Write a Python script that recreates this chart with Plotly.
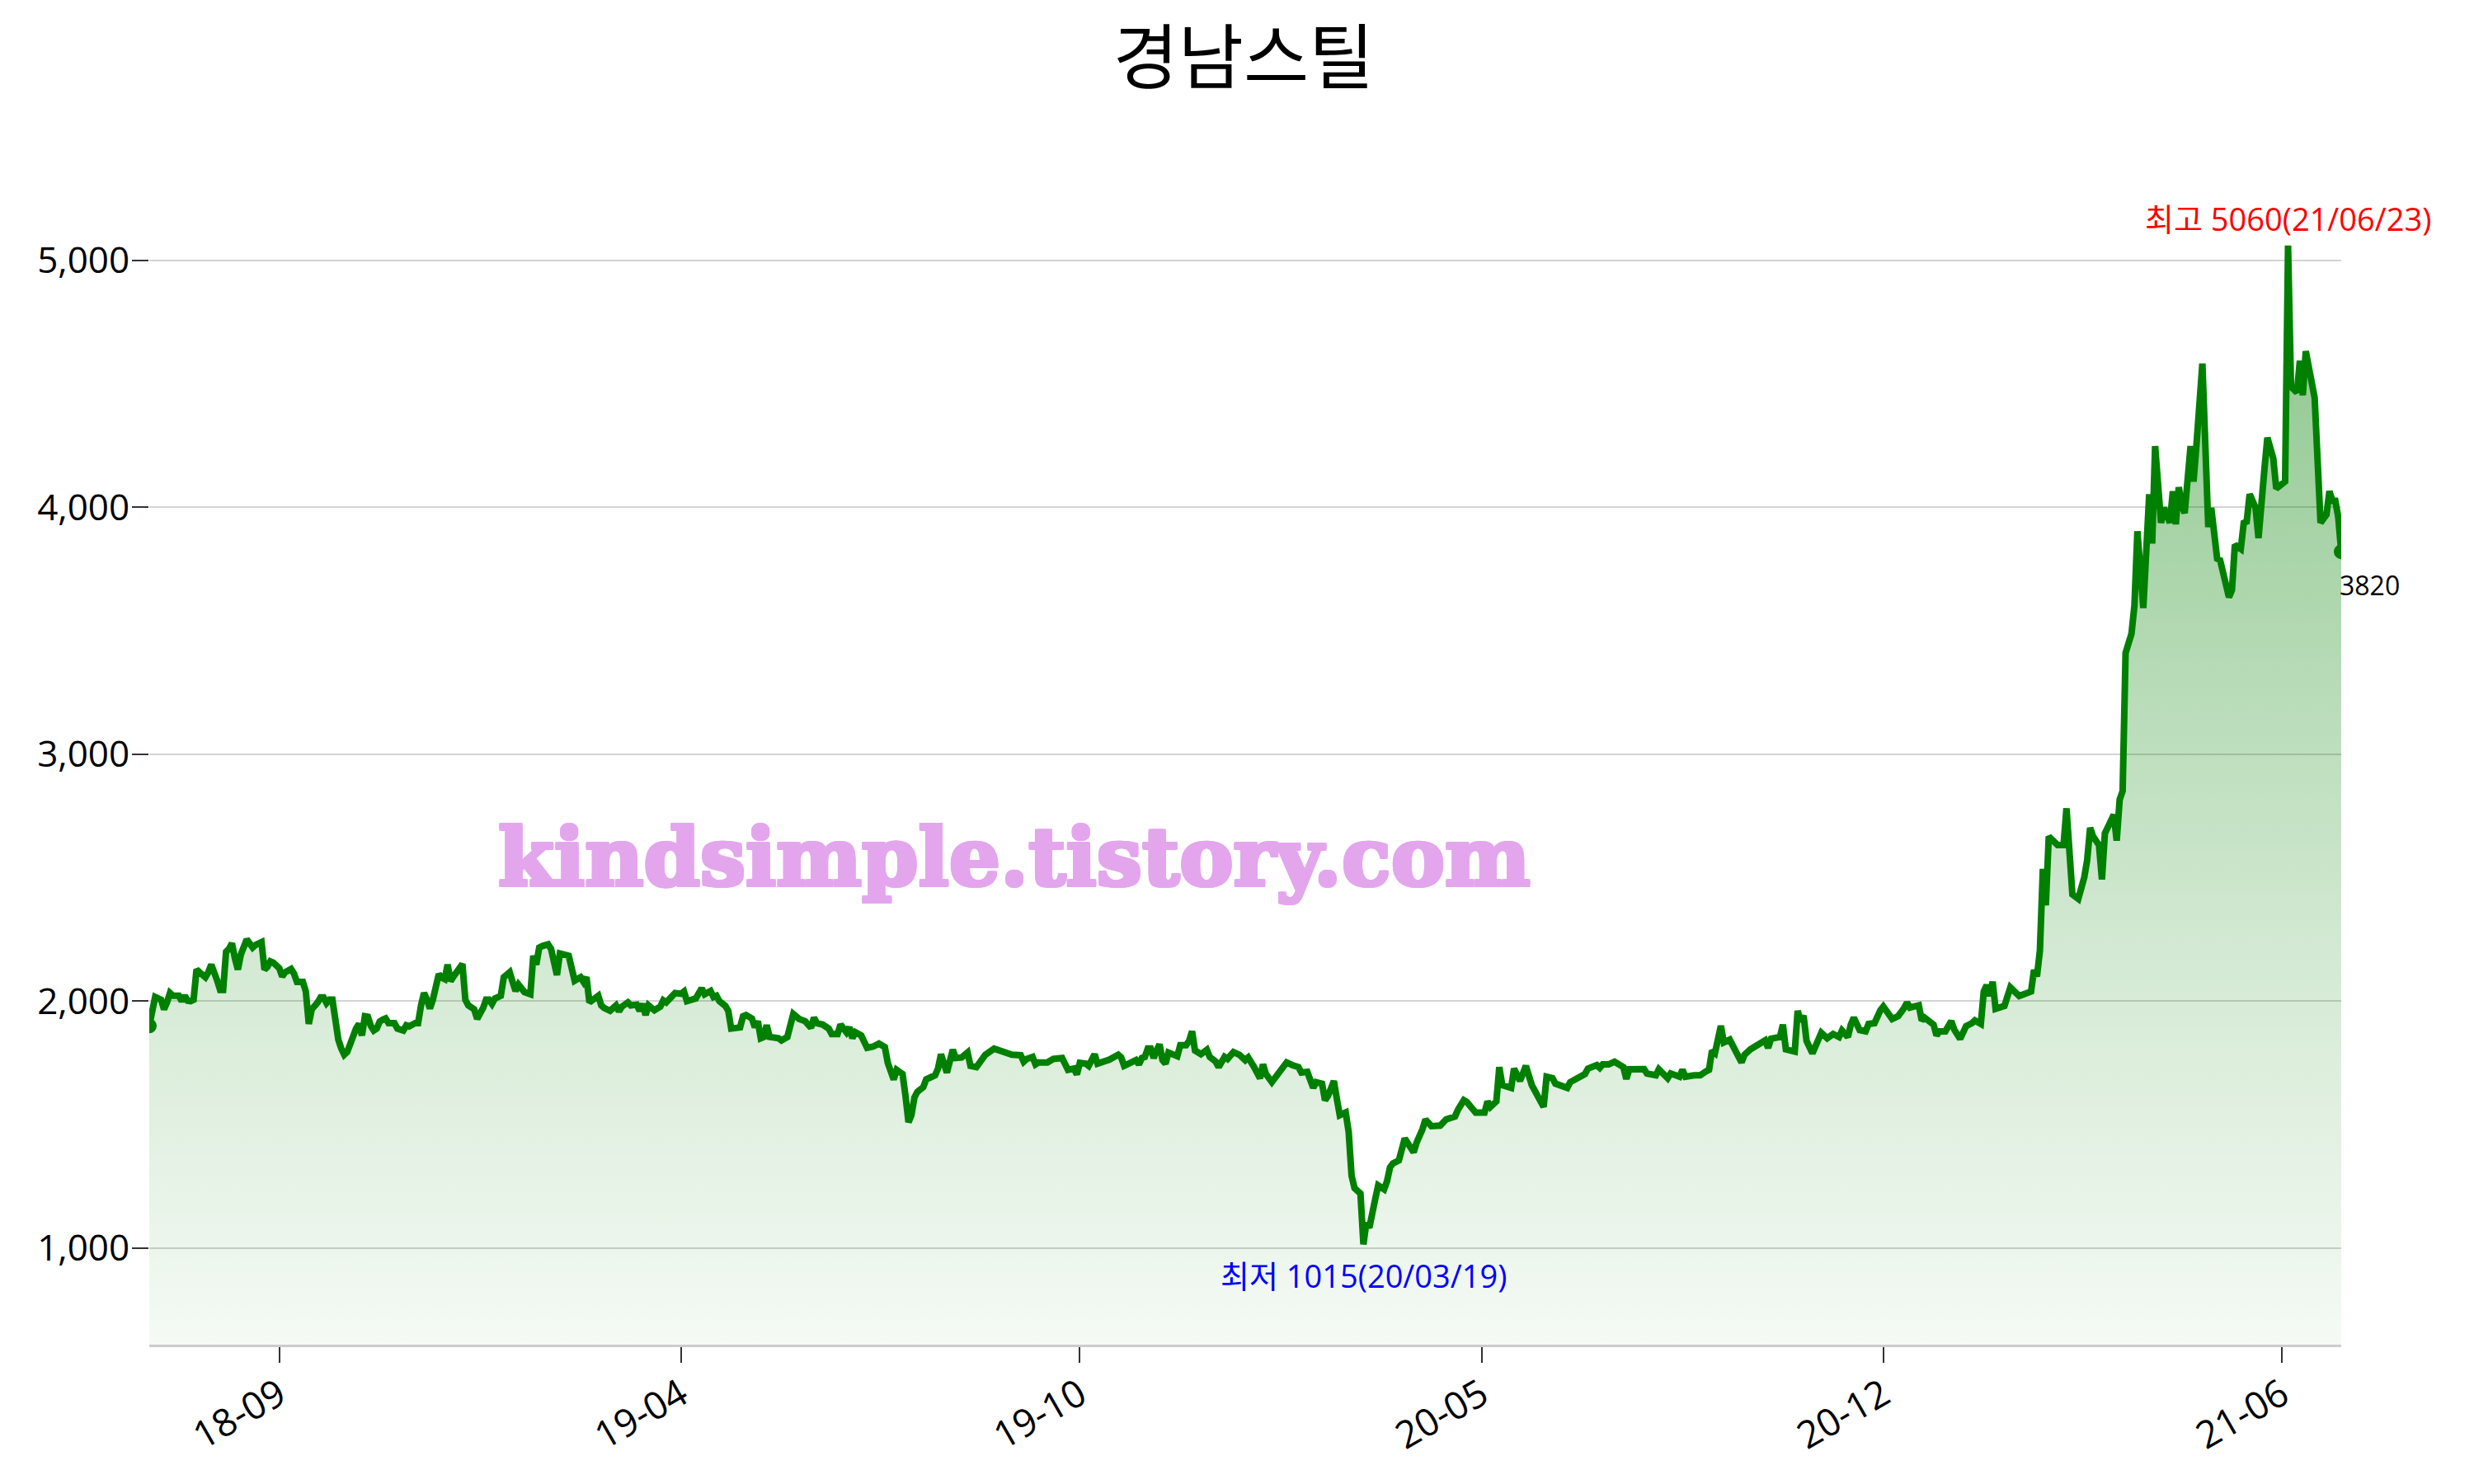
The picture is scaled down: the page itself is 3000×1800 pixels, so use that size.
import plotly.graph_objects as go

# ---- data (trading-day index, close price) ----
day_idx = [0, 1, 2, 4, 5, 6, 7, 8, 10, 11, 12, 13, 14, 15, 16, 17, 19, 20, 21, 23, 24, 25, 26, 27, 28, 29, 30, 31, 32, 33,
           35, 36, 38, 39, 40, 41, 42, 43, 44, 45, 46, 48, 49, 50, 52, 53, 54, 55, 56, 57, 58, 59, 60, 61, 62, 63, 64, 65, 66, 67,
           68, 69, 70, 71, 72, 73, 74, 75, 76, 77, 78, 79, 80, 81, 83, 84, 86, 87, 88, 90, 91, 92, 93, 94, 95, 96, 97, 98, 99, 100,
           101, 102, 103, 105, 106, 107, 108, 110, 111, 113, 114, 115, 116, 117, 119, 120, 121, 122, 123, 124, 125, 127, 129, 130, 131, 132, 133, 135, 136, 138,
           139, 141, 142, 144, 146, 147, 148, 149, 150, 152, 153, 154, 156, 158, 159, 160, 162, 163, 165, 166, 167, 168, 169, 171, 173, 174, 175, 178, 180, 181,
           182, 184, 185, 187, 188, 190, 191, 192, 193, 195, 196, 197, 199, 200, 201, 202, 204, 205, 206, 207, 208, 209, 210, 213, 214, 216, 218, 220, 222, 224,
           225, 226, 228, 230, 231, 233, 234, 236, 237, 238, 239, 241, 243, 245, 247, 249, 250, 252, 253, 255, 256, 257, 258, 259, 260, 262, 263, 266, 267, 268,
           270, 272, 273, 275, 277, 278, 280, 282, 283, 286, 288, 290, 292, 295, 296, 297, 299, 300, 301, 304, 306, 309, 310, 311, 313, 314, 315, 317, 318, 320,
           321, 323, 325, 328, 329, 330, 332, 334, 335, 336, 337, 338, 339, 340, 341, 342, 343, 344, 345, 348, 349, 351, 352, 353, 354, 356, 358, 359, 361, 362,
           364, 365, 367, 369, 371, 372, 374, 376, 377, 378, 380, 382, 385, 387, 389, 390, 392, 394, 395, 397, 398, 399, 401, 402, 403, 405, 406, 407, 408, 410,
           411, 412, 413, 415, 416, 418, 419, 420, 421, 423, 425, 428, 429, 431, 432, 434, 437, 439, 442, 443, 445, 446, 449, 452, 453, 454, 456, 457, 458, 461,
           462, 464, 466, 468, 470, 472, 473, 475, 476, 480, 481, 483, 486, 487, 490, 491, 492, 494, 496, 499, 500, 501, 504, 506, 507, 510, 511, 512, 514, 515,
           518, 519, 520, 523, 525, 527, 528, 529, 530, 532, 533, 535, 538, 539, 540, 542, 547, 548, 549, 552, 553, 554, 557, 558, 559, 560, 561, 563, 566, 568,
           570, 572, 573, 575, 576, 577, 579, 581, 582, 584, 586, 587, 590, 592, 594, 595, 596, 599, 600, 601, 604, 605, 606, 608, 610, 611, 613, 615, 617, 618,
           620, 621, 622, 623, 624, 625, 628, 630, 633, 637, 638, 639, 640, 641, 642, 643, 646, 648, 649, 651, 653, 655, 656, 657, 658, 660, 661, 662, 665, 666,
           667, 668, 669, 670, 671, 672, 673, 675, 676, 677, 678, 679, 681, 682, 684, 685, 686, 687, 688, 689, 691, 692, 693, 695, 697, 698, 700, 701, 704, 705,
           706, 708, 709, 710, 711, 713, 714, 715, 716, 717, 718, 719, 720, 723, 724, 725, 727, 728, 729, 730, 733, 734, 735, 737, 738, 739, 740, 741, 742]

close_price = [1900, 1975, 2017, 2006, 1967, 1995, 2033, 2022, 2022, 2000, 2022, 2002, 2000, 2006, 2128, 2117, 2097, 2117, 2148, 2083, 2045, 2045, 2200, 2212, 2234, 2173, 2128, 2189, 2223, 2250,
               2217, 2228, 2239, 2128, 2139, 2161, 2156, 2141, 2134, 2100, 2117, 2130, 2111, 2078, 2078, 2039, 1908, 1967, 1978, 1995, 2015, 2015, 1992, 2006, 2006, 1917, 1844, 1808, 1783, 1794,
               1833, 1867, 1889, 1908, 1861, 1939, 1937, 1900, 1881, 1889, 1917, 1925, 1930, 1911, 1911, 1889, 1881, 1902, 1898, 1911, 1911, 1983, 2033, 2006, 1970, 2006, 2067, 2109, 2095, 2089,
               2148, 2081, 2100, 2128, 2150, 2006, 1983, 1967, 1928, 1972, 2006, 2006, 1989, 2011, 2022, 2097, 2106, 2117, 2078, 2041, 2067, 2037, 2028, 2184, 2148, 2217, 2223, 2230, 2212, 2106,
               2193, 2184, 2184, 2083, 2097, 2078, 2097, 1995, 2006, 2022, 1983, 1972, 1961, 1983, 1959, 1978, 1995, 1983, 1986, 1961, 1989, 1944, 1983, 1963, 1978, 2003, 1995, 2033, 2030, 2039,
               2000, 2011, 2011, 2052, 2028, 2041, 2017, 2022, 2000, 1981, 1961, 1889, 1889, 1894, 1939, 1944, 1930, 1894, 1919, 1850, 1855, 1903, 1855, 1850, 1841, 1855, 1948, 1928, 1919, 1892,
               1933, 1911, 1905, 1889, 1867, 1867, 1905, 1874, 1894, 1850, 1874, 1861, 1811, 1816, 1828, 1814, 1750, 1683, 1722, 1705, 1616, 1510, 1538, 1610, 1633, 1652, 1683, 1700, 1727, 1785,
               1711, 1803, 1770, 1772, 1792, 1738, 1733, 1770, 1783, 1808, 1800, 1792, 1783, 1781, 1755, 1766, 1774, 1744, 1752, 1752, 1766, 1770, 1738, 1722, 1727, 1703, 1750, 1747, 1738, 1785,
               1747, 1755, 1763, 1783, 1772, 1738, 1752, 1761, 1744, 1770, 1774, 1808, 1808, 1770, 1800, 1825, 1761, 1747, 1792, 1777, 1822, 1822, 1839, 1878, 1800, 1785, 1803, 1774, 1755, 1733,
               1774, 1766, 1794, 1783, 1761, 1772, 1733, 1688, 1744, 1705, 1672, 1705, 1752, 1741, 1733, 1711, 1714, 1649, 1672, 1666, 1599, 1616, 1677, 1605, 1538, 1549, 1471, 1293, 1243, 1221,
               1015, 1104, 1082, 1199, 1254, 1238, 1271, 1327, 1343, 1355, 1444, 1388, 1427, 1482, 1521, 1494, 1496, 1521, 1533, 1560, 1599, 1592, 1549, 1549, 1594, 1572, 1594, 1733, 1660, 1649,
               1727, 1677, 1738, 1660, 1610, 1572, 1694, 1688, 1666, 1649, 1672, 1683, 1705, 1727, 1741, 1730, 1744, 1744, 1755, 1733, 1685, 1724, 1722, 1725, 1707, 1700, 1724, 1711, 1688, 1707,
               1694, 1722, 1694, 1700, 1700, 1716, 1722, 1800, 1790, 1900, 1833, 1844, 1783, 1752, 1783, 1805, 1841, 1811, 1848, 1855, 1905, 1805, 1796, 1961, 1919, 1941, 1839, 1789, 1872, 1850,
               1867, 1855, 1881, 1855, 1905, 1933, 1883, 1878, 1908, 1911, 1963, 1978, 1928, 1939, 1972, 1994, 1974, 1983, 1922, 1933, 1905, 1861, 1878, 1878, 1919, 1885, 1847, 1899, 1911, 1922,
               1908, 2039, 2065, 2021, 2079, 1969, 1981, 2056, 2021, 2039, 2126, 2100, 2205, 2536, 2388, 2667, 2632, 2632, 2781, 2432, 2414, 2501, 2571, 2702, 2667, 2632, 2493, 2680, 2755, 2650,
               2816, 2851, 3410, 3444, 3488, 3602, 3903, 3592, 3853, 4053, 3853, 4248, 3937, 3998, 3937, 4065, 3931, 4081, 4009, 3976, 4248, 4104, 4254, 4582, 3920, 3998, 3792, 3786, 3636, 3664,
               3848, 3831, 3937, 3942, 4053, 3998, 3875, 4065, 4154, 4282, 4237, 4198, 4076, 4104, 5060, 4488, 4465, 4593, 4454, 4632, 4443, 4165, 3937, 3970, 4065, 4026, 4026, 3959, 3820]

tick_idx = [44, 180, 315, 451, 587, 722]
tick_labels = ["18-09", "19-04", "19-10", "20-05", "20-12", "21-06"]
y_ticks = [1000, 2000, 3000, 4000, 5000]

title_text = "경남스틸"
high_label = "최고 5060(21/06/23)"
low_label = "최저 1015(20/03/19)"
watermark = "kindsimple.tistory.com"

FONT = "Open Sans, Noto Sans CJK KR, sans-serif"
WM_COLOR = "rgb(227,166,237)"

hi_v = max(close_price)
lo_v = min(close_price)
hi_x = day_idx[close_price.index(hi_v)]
lo_x = day_idx[close_price.index(lo_v)]

fig = go.Figure()
fig.add_trace(go.Scatter(
    x=day_idx, y=close_price, mode="lines",
    line=dict(color="#008000", width=8),
    fill="tozeroy",
    fillgradient=dict(type="vertical",
                      colorscale=[[0, "rgba(0,128,0,0.04)"], [0.35, "rgba(0,128,0,0.17)"],
                                  [1, "rgba(0,128,0,0.46)"]],
                      start=lo_v * 0.6, stop=hi_v),
    hoverinfo="skip", showlegend=False,
))
fig.add_trace(go.Scatter(
    x=[day_idx[0], day_idx[-1]], y=[close_price[0], close_price[-1]], mode="markers",
    marker=dict(color="#008000", size=18), showlegend=False, hoverinfo="skip",
))

fig.add_annotation(x=hi_x, y=hi_v, text=high_label, showarrow=False, yshift=33,
                   font=dict(family=FONT, size=38, color="#ff0000"))
fig.add_annotation(x=lo_x, y=lo_v, text=low_label, showarrow=False, yshift=-38,
                   font=dict(family=FONT, size=38, color="#0000ff"))
fig.add_annotation(x=day_idx[-1], y=close_price[-1], text=str(close_price[-1]), showarrow=False,
                   xanchor="left", yshift=-40, xshift=-4,
                   font=dict(family=FONT, size=32, color="#000000"))
wm_shadow = ", ".join([f"{dx}px {dy}px 0 {WM_COLOR}" for dx, dy in
                       [(2, 0), (-2, 0), (0, 2), (0, -2), (2, 2), (-2, -2), (2, -2), (-2, 2)]])
fig.add_annotation(xref="paper", yref="paper", x=0.3947, y=0.42, text="<b>" + watermark + "</b>",
                   showarrow=False,
                   font=dict(family="DejaVu Serif", size=98, color=WM_COLOR, shadow=wm_shadow))

fig.update_layout(
    width=3000, height=1800,
    margin=dict(l=173, r=169, t=214, b=177, autoexpand=False),
    paper_bgcolor="white", plot_bgcolor="white",
    title=dict(text=title_text, x=0.5, xanchor="center", y=0.965, yanchor="middle",
               font=dict(family=FONT, size=86, color="#000000")),
    font=dict(family=FONT, color="#000000"),
    showlegend=False,
)
fig.update_xaxes(range=[day_idx[0], day_idx[-1]], tickmode="array", tickvals=tick_idx, ticktext=tick_labels,
                 tickangle=-30, ticks="outside", ticklen=19, tickwidth=2, tickcolor="#333333",
                 ticklabelstandoff=-6,
                 showgrid=False, zeroline=False, showline=True, linecolor="#cccccc", linewidth=3,
                 tickfont=dict(family=FONT, size=46, color="#000000"))
fig.update_yaxes(range=[lo_v * 0.6, hi_v * 1.05], tickmode="array", tickvals=y_ticks, tickformat=",",
                 ticks="outside", ticklen=20, tickwidth=2, tickcolor="#333333", ticklabelstandoff=-6,
                 showgrid=True, gridcolor="#d3d3d3", gridwidth=2, zeroline=False, showline=False,
                 tickfont=dict(family=FONT, size=44, color="#000000"))

fig.write_html("out.html")
